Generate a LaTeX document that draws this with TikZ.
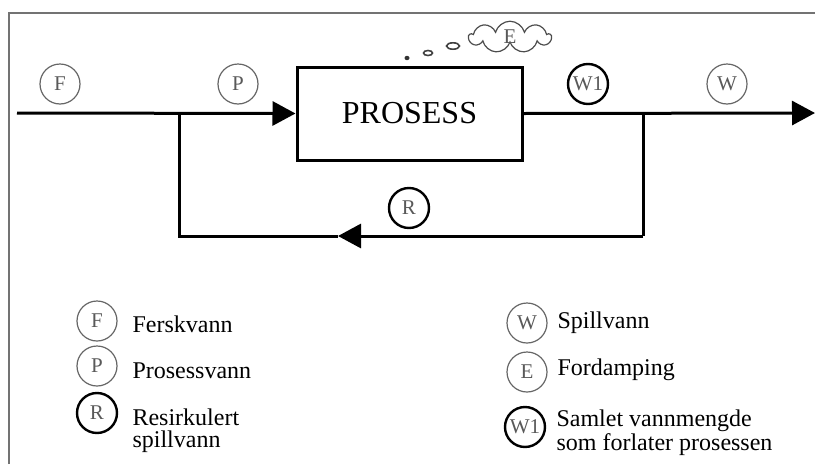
\documentclass[tikz,border=0pt]{standalone}
\usepackage{fontspec}
\setmainfont{Liberation Serif}
\usetikzlibrary{positioning, shapes.geometric, shapes.symbols, arrows.meta}

\tikzset{
    flow/.style = {line width = 3pt, black},
    flowarrow/.style = {flow, -{Triangle[length = 23pt, width = 24pt]}},
    tag/.style = {shape = circle, draw = black!60, line width = 1.2pt, minimum size = 40pt,
                  inner sep = 0pt, text = black!65, font = \fontsize{21}{21}\selectfont},
    bigtag/.style = {tag, draw = black, line width = 2.4pt},
    legend/.style = {anchor = base west, align = left, font = \fontsize{24}{22}\selectfont}
}

\begin{document}
\begin{tikzpicture}[x = 1pt, y = -1pt]
                    \useasboundingbox (0, 0) rectangle (815, 464);
                    \draw [black!55, line width = 2pt] (9, 464) -- (9, 13) -- (815, 13);

                    \coordinate (begin) at (17, 113);
                    \coordinate (split) at (179, 113);
                    \coordinate (join) at (643, 113);
                    \coordinate (end) at (815, 113);
                    \coordinate (lowleft) at (179, 236);
                    \coordinate (lowright) at (643, 236);
                    \coordinate (back) at (338, 236);
                    \node [shape = rectangle, draw = black, line width = 3pt, minimum width = 225pt,
                           minimum height = 93pt, font = \fontsize{32}{32}\selectfont] (P1) at (409.5, 113.5) {PROSESS};

                    \draw [flowarrow] (begin) -- (P1.west);
                    \draw [flowarrow] (P1.east) -- (end);
                    \draw [flow] (join) -- (lowright);
                    \draw [flowarrow] (lowright) -- (back);
                    \draw [flow] (back) -- (lowleft) -- (split);

                    \node [tag] (F) at (60, 84) {F};
                    \node [tag] (P) at (238, 84) {P};
                    \node [bigtag] (W1) at (588, 84) {W1};
                    \node [tag] (W) at (727, 84) {W};
                    \node [bigtag] (R) at (409, 208) {R};

                    % fordamping
                    \node [shape = cloud, draw = black!70, line width = 1.2pt, cloud puffs = 9, aspect = 2.6,
                           minimum width = 82pt, minimum height = 30pt, inner sep = 0pt,
                           text = black!65, font = \fontsize{21}{21}\selectfont] (E) at (510, 37) {E};
                    \fill [black!80] (407, 58) ellipse (2.5 and 2.2);
                    \draw [black!75, line width = 1.6pt] (428, 53) ellipse (4.5 and 2.5);
                    \draw [black!75, line width = 1.6pt] (453, 46) ellipse (6.5 and 3.2);

                    % forklaring
                    \node [tag] (lF) at (97, 321) {F};
                    \node [tag] (lP) at (97, 366) {P};
                    \node [bigtag] (lR) at (97, 413) {R};
                    \node [tag] (lW) at (527, 323) {W};
                    \node [tag] (lE) at (527, 372) {E};
                    \node [bigtag] (lW1) at (525, 427) {W1};

                    \node [legend] (tF) at (129, 332) {Ferskvann};
                    \node [legend] (tP) at (129, 378) {Prosessvann};
                    \node [legend] (tR) at (129, 447) {Resirkulert\\spillvann};
                    \node [legend] (tW) at (554, 328) {Spillvann};
                    \node [legend] (tE) at (554, 375) {Fordamping};
                    \node [legend] (tW1) at (553, 450) {Samlet vannmengde\\som forlater prosessen};
                \end{tikzpicture}
\end{document}
